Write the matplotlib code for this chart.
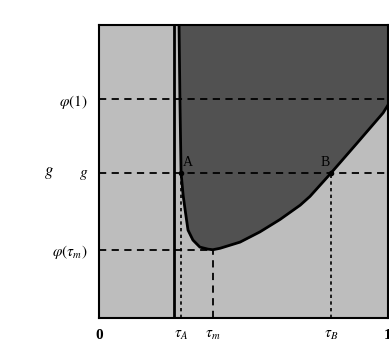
import matplotlib.pyplot as plt
import numpy as np

plt.rcParams['font.family'] = 'Liberation Serif'
plt.rcParams['mathtext.fontset'] = 'stix'

# boundary curve (tau, g)
curve_x = [0.277, 0.280, 0.284, 0.291, 0.298, 0.308, 0.325, 0.349, 0.377, 0.394,
           0.419, 0.488, 0.557, 0.626, 0.696, 0.730, 0.803, 0.893, 0.983, 1.0]
curve_y = [1.0, 0.747, 0.495, 0.420, 0.369, 0.300, 0.266, 0.242, 0.235, 0.233,
           0.238, 0.259, 0.294, 0.336, 0.385, 0.415, 0.495, 0.597, 0.700, 0.727]

tau_0 = 0.26      # solid vertical line
tau_A = 0.284
tau_m = 0.394
tau_B = 0.803
phi_1 = 0.747
g_val = 0.495
phi_m = 0.233

xtick_pos = [0, tau_A, tau_m, tau_B, 1]
xtick_lab = ['0', r'$\tau_A$', r'$\tau_m$', r'$\tau_B$', '1']
ytick_pos = [phi_m, g_val, phi_1]
ytick_lab = [r'$\varphi(\tau_m)$', r'$g$', r'$\varphi(1)$']

fig = plt.figure(figsize=(3.89, 3.58), dpi=100)
ax = fig.add_axes([99 / 389, 40 / 358, 289 / 389, 293 / 358])
ax.set_xlim(0, 1)
ax.set_ylim(0, 1)
ax.set_facecolor('#bdbdbd')

# dark region above the curve
ax.fill(curve_x + [1, curve_x[0]], curve_y + [1, 1], color='#515151', zorder=1)
ax.plot(curve_x, curve_y, color='black', lw=2, zorder=3, solid_joinstyle='round')
ax.axvline(tau_0, color='black', lw=2, zorder=3)

dash = dict(color='black', lw=1.3, ls=(0, (4, 3)), zorder=2)
ax.plot([0, 1], [phi_1, phi_1], **dash)
ax.plot([0, 1], [g_val, g_val], **dash)
ax.plot([0, tau_m], [phi_m, phi_m], **dash)
ax.plot([tau_m, tau_m], [0, phi_m], **dash)
ax.plot([tau_B, tau_B], [0, g_val], color='black', lw=1.2, ls=(0, (2, 2)), zorder=2)
ax.plot([tau_A, tau_A], [0, g_val], color='black', lw=1.2, ls=(0, (2, 2)), zorder=2)

ax.plot([tau_A, tau_B], [g_val, g_val], 'o', color='black', ms=3, zorder=4)
ax.text(tau_A + 0.005, g_val + 0.012, 'A', fontsize=10, va='bottom', ha='left')
ax.text(tau_B - 0.005, g_val + 0.012, 'B', fontsize=10, va='bottom', ha='right')

ax.set_xticks(xtick_pos)
ax.set_xticklabels(xtick_lab, fontsize=11, fontweight='bold')
ax.set_yticks(ytick_pos)
ax.set_yticklabels(ytick_lab, fontsize=11, fontweight='bold')
ax.tick_params(length=0, pad=8)
ax.set_xlabel(r'$\tau$', fontsize=11, labelpad=14)
ax.text(-0.175, g_val, r'$g$', fontsize=12, ha='center', va='center',
        transform=ax.transAxes)

for s in ax.spines.values():
    s.set_linewidth(1.5)

plt.savefig('out.png', dpi=100)
